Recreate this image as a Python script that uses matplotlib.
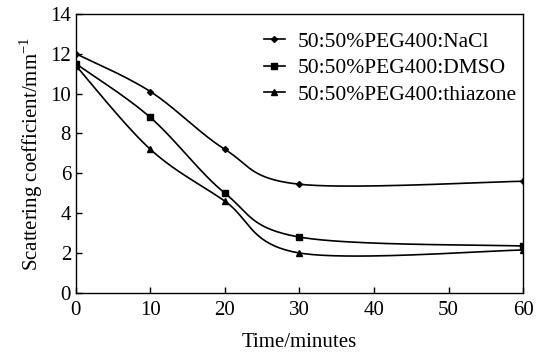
import numpy as np
import matplotlib
matplotlib.use("Agg")
import matplotlib.pyplot as plt

plt.rcParams['font.family'] = ['Liberation Serif', 'DejaVu Serif']
plt.rcParams['mathtext.fontset'] = 'custom'
plt.rcParams['mathtext.rm'] = 'Liberation Serif'

time = [0, 10, 20, 30, 60]
nacl = [12.0, 10.1, 7.2, 5.45, 5.6]
dmso = [11.5, 8.8, 5.0, 2.8, 2.35]
thiazone = [11.4, 7.2, 4.6, 2.0, 2.15]
labels = ["50:50%PEG400:NaCl", "50:50%PEG400:DMSO", "50:50%PEG400:thiazone"]
markers = ["D", "s", "^"]
msizes = [3, 4, 5]


def smooth(x, y, n=40, t=0.5):
    # Excel-like Bezier smoothing (Catmull-Rom tangents)
    x = np.asarray(x, float); y = np.asarray(y, float)
    xs, ys = [], []
    m = len(x)
    for i in range(m - 1):
        p0 = np.array([x[i - 1], y[i - 1]]) if i > 0 else np.array([x[i], y[i]])
        p1 = np.array([x[i], y[i]])
        p2 = np.array([x[i + 1], y[i + 1]])
        p3 = np.array([x[i + 2], y[i + 2]]) if i + 2 < m else p2
        c1 = p1 + (p2 - p0) * t / 3
        c2 = p2 - (p3 - p1) * t / 3
        s = np.linspace(0, 1, n)[:, None]
        pts = (1 - s) ** 3 * p1 + 3 * (1 - s) ** 2 * s * c1 + 3 * (1 - s) * s ** 2 * c2 + s ** 3 * p2
        xs.extend(pts[:, 0]); ys.extend(pts[:, 1])
    return np.array(xs), np.array(ys)


fig = plt.figure(figsize=(5.42, 3.55), dpi=100)
ax = fig.add_axes([0.140, 0.175, 0.825, 0.786])

for ys, lab, mk, ms in zip([nacl, dmso, thiazone], labels, markers, msizes):
    sx, sy = smooth(time, ys)
    ax.plot(sx, sy, color='black', lw=1.2)
    ax.plot(time, ys, linestyle='none', marker=mk, color='black', ms=ms)
    ax.plot([], [], color='black', lw=1.2, marker=mk, ms=ms, label=lab)

ax.set_xlim(0, 60)
ax.set_ylim(0, 14)
ax.set_xticks(range(0, 61, 10))
ax.set_yticks(range(0, 15, 2))
ax.tick_params(direction='in', labelsize=15, length=4, width=1)
ax.tick_params(axis='x', pad=6)
for sp in ax.spines.values():
    sp.set_linewidth(1.0)
ax.set_xlabel("Time/minutes", fontsize=15, labelpad=9)
ax.set_ylabel("Scattering coefficient/mm$^{-1}$", fontsize=15, labelpad=4)
ax.legend(loc='upper right', bbox_to_anchor=(1.03, 1.005), frameon=False, fontsize=15.5,
          handlelength=1.0, handletextpad=0.6, labelspacing=0.3)

fig.savefig("out.png", dpi=100)
